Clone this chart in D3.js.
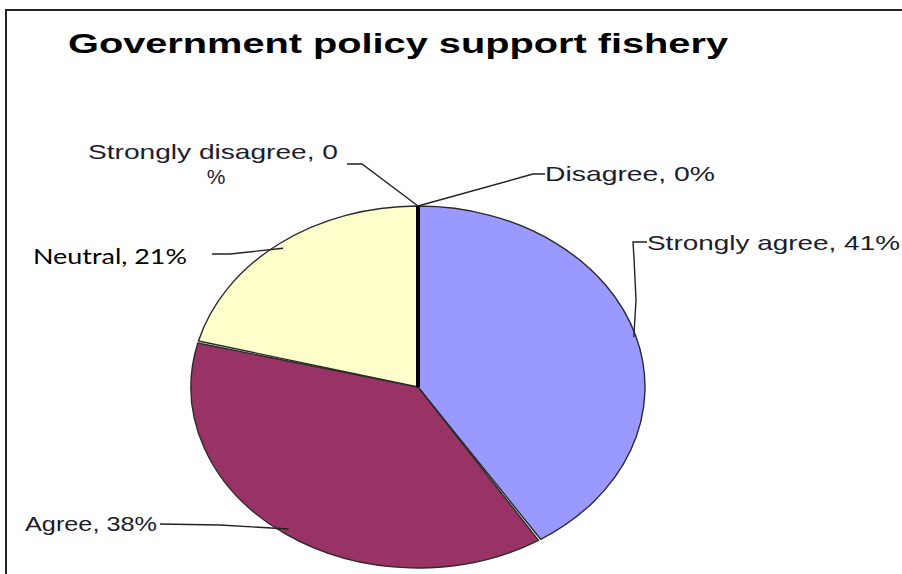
<!DOCTYPE html>
<html>
<head>
<meta charset="utf-8">
<script src="https://cdn.jsdelivr.net/npm/d3@7"></script>
<style>
  html, body { margin: 0; padding: 0; background: #fff; }
  svg { display: block; }
</style>
</head>
<body>
<svg id="chart" width="902" height="574"></svg>
<script>
// Survey answers, in the order the slices run clockwise from twelve o'clock
const categories = ["Strongly agree", "Agree", "Neutral", "Strongly disagree", "Disagree"];
const percents   = [41, 38, 21, 0, 0];
const sliceColors = ["#9999FF", "#993366", "#FFFFCC", "#FFFFCC", "#9999FF"];
const chartTitle = "Government policy support fishery";

(function draw() {
  const svg = d3.select("#chart");

  // outer frame of the chart area
  svg.append("path")
    .attr("d", "M6,574 L6,10 L902,10")
    .attr("fill", "none")
    .attr("stroke", "#222")
    .attr("stroke-width", 2);

  // title
  svg.append("text")
    .attr("x", 68).attr("y", 53)
    .attr("font-family", "Liberation Sans, Arial, sans-serif")
    .attr("font-weight", "bold")
    .attr("font-size", 28)
    .attr("fill", "#000")
    .attr("textLength", 660)
    .attr("lengthAdjust", "spacingAndGlyphs")
    .text(chartTitle);

  // elliptical pie: a circle of radius rx squashed vertically
  const cx = 418, cy = 387, rx = 227, ry = 181;
  const pie = d3.pie().sort(null).value(d => d.value);
  const data = categories.map((c, i) => ({ name: c, value: percents[i], color: sliceColors[i] }));
  const arcs = pie(data);

  const arc = d3.arc().innerRadius(0).outerRadius(rx).padAngle(0.011).padRadius(rx);

  const pieG = svg.append("g")
    .attr("transform", `translate(${cx},${cy}) scale(1,${ry / rx})`);

  pieG.selectAll("path.slice")
    .data(arcs.filter(a => a.value > 0))
    .join("path")
    .attr("class", "slice")
    .attr("d", arc)
    .attr("fill", d => d.data.color)
    .attr("stroke", "#2a2a2a")
    .attr("stroke-width", 1.4)
    .attr("stroke-linejoin", "round")
    .attr("vector-effect", "non-scaling-stroke");

  // empty categories collapse onto the 12 o'clock radius
  const zeroAngle = arcs.find(a => a.value === 0).startAngle;
  const pt = (angle, r = 1) => [cx + Math.sin(angle) * rx * r, cy - Math.cos(angle) * ry * r];
  const zeroPt = pt(zeroAngle);
  svg.append("line")
    .attr("x1", cx).attr("y1", cy)
    .attr("x2", zeroPt[0]).attr("y2", zeroPt[1])
    .attr("stroke", "#000")
    .attr("stroke-width", 4);

  // data labels with leader lines
  const labelFont = "Liberation Sans, Arial, sans-serif";
  const labelSpec = {
    "Strongly agree":    { lines: ["Strongly agree, 41%"], x: 647, y: 250, w: 253, anchorR: 0.99,
                           path: a => [a, [636, 300], [634, 258], [633, 242], [647, 242]] },
    "Agree":             { lines: ["Agree, 38%"], x: 25, y: 531, w: 132, anchorR: 0.97,
                           path: a => [a, [220, 525], [160, 524]] },
    "Neutral":           { lines: ["Neutral, 21%"], x: 33, y: 264, w: 154, anchorR: 0.97, calibri: true,
                           path: a => [a, [230, 254], [212, 254]] },
    "Strongly disagree": { lines: ["Strongly disagree, 0", "%"], x: 88, y: 159, w: 250, anchorR: 1,
                           path: a => [a, [362, 164], [347, 164]] },
    "Disagree":          { lines: ["Disagree, 0%"], x: 545, y: 181, w: 170, anchorR: 1,
                           path: a => [a, [533, 174], [545, 174]] }
  };

  const line = d3.line();
  arcs.forEach(a => {
    const s = labelSpec[a.data.name];
    const mid = a.value > 0 ? (a.startAngle + a.endAngle) / 2 : a.startAngle;
    const anchor = pt(mid, s.anchorR);
    svg.append("path")
      .attr("d", line(s.path(anchor)))
      .attr("fill", "none")
      .attr("stroke", "#222")
      .attr("stroke-width", 1.4);

    svg.append("text")
      .attr("x", s.x).attr("y", s.y)
      .attr("font-family", s.calibri ? "Lato, 'Open Sans', sans-serif" : labelFont)
      .attr("font-size", s.calibri ? 21 : 21)
      .attr("fill", s.calibri ? "#000" : "#1c1c2e")
      .attr("textLength", s.w)
      .attr("lengthAdjust", "spacingAndGlyphs")
      .text(s.lines[0]);
    if (s.lines.length > 1) {
      svg.append("text")
        .attr("x", s.x + 128).attr("y", s.y + 25)
        .attr("text-anchor", "middle")
        .attr("font-family", labelFont)
        .attr("font-size", 21)
        .attr("fill", "#1c1c2e")
        .text(s.lines[1]);
    }
  });
})();
</script>
</body>
</html>
